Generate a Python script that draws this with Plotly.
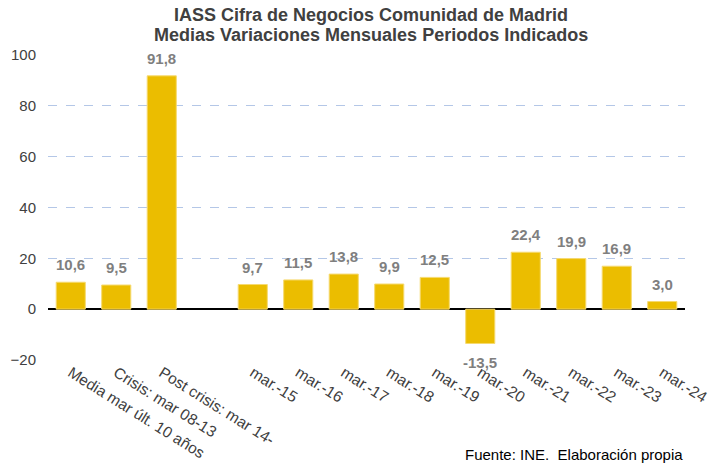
import plotly.graph_objects as go

categories = ["Media mar últ. 10 años", "Crisis: mar 08-13", "Post crisis: mar 14-", " ",
              "mar.-15", "mar.-16", "mar.-17", "mar.-18", "mar.-19", "mar.-20",
              "mar.-21", "mar.-22", "mar.-23", "mar.-24"]
values = [10.6, 9.5, 91.8, None, 9.7, 11.5, 13.8, 9.9, 12.5, -13.5, 22.4, 19.9, 16.9, 3.0]
y_ticks = [-20, 0, 20, 40, 60, 80, 100]
title_lines = ["IASS Cifra de Negocios Comunidad de Madrid",
               "Medias Variaciones Mensuales Periodos Indicados"]

fig = go.Figure(go.Bar(
    x=categories, y=values,
    marker=dict(color="#EBBD00", line=dict(color="#F6DA70", width=1)),
    cliponaxis=False,
))

annotations = []
for c, v in zip(categories, values):
    if v is None:
        continue
    label = f"{v:.1f}".replace(".", ",")
    annotations.append(dict(
        x=c, y=v, xref="x", yref="y", text=f"<b>{label}</b>", showarrow=False,
        yanchor="bottom" if v >= 0 else "top", yshift=7 if v >= 0 else -9,
        font=dict(family="Liberation Sans", size=15, color="#7F7F7F")))

for i, line in enumerate(title_lines):
    annotations.append(dict(text=f"<b>{line}</b>", xref="paper", yref="paper",
                            x=0.507, y=1.131 - i * 0.0656, xanchor="center", yanchor="middle",
                            showarrow=False,
                            font=dict(family="Liberation Sans", size=18, color="#404040")))

annotations.append(dict(text="Fuente: INE.  Elaboración propia", xref="paper", yref="paper",
                        x=1.0, y=-0.31, xanchor="right", yanchor="middle", showarrow=False,
                        font=dict(family="Liberation Sans", size=15, color="black")))

fig.update_layout(
    width=710, height=465,
    margin=dict(l=48, r=25, t=55, b=105, autoexpand=False),
    paper_bgcolor="white", plot_bgcolor="white",
    bargap=0.36,
    showlegend=False,
    font=dict(family="Liberation Sans", color="#404040"),
    xaxis=dict(type="category", tickangle=32, tickfont=dict(size=15.5, color="#404040"),
               showgrid=False, showline=False, ticks="", automargin=False),
    yaxis=dict(range=[-20, 100], tickvals=y_ticks, tickfont=dict(size=15, color="#404040"),
               showgrid=True, gridcolor="#B4C7E7", griddash="dash", gridwidth=1,
               zeroline=True, zerolinecolor="black", zerolinewidth=1.5,
               ticks="outside", ticklen=8, tickcolor="rgba(0,0,0,0)", automargin=False),
    annotations=annotations,
)

fig.write_html("out.html", config={"displayModeBar": False},
               post_script="document.body.style.margin='0';document.body.style.padding='0';")
